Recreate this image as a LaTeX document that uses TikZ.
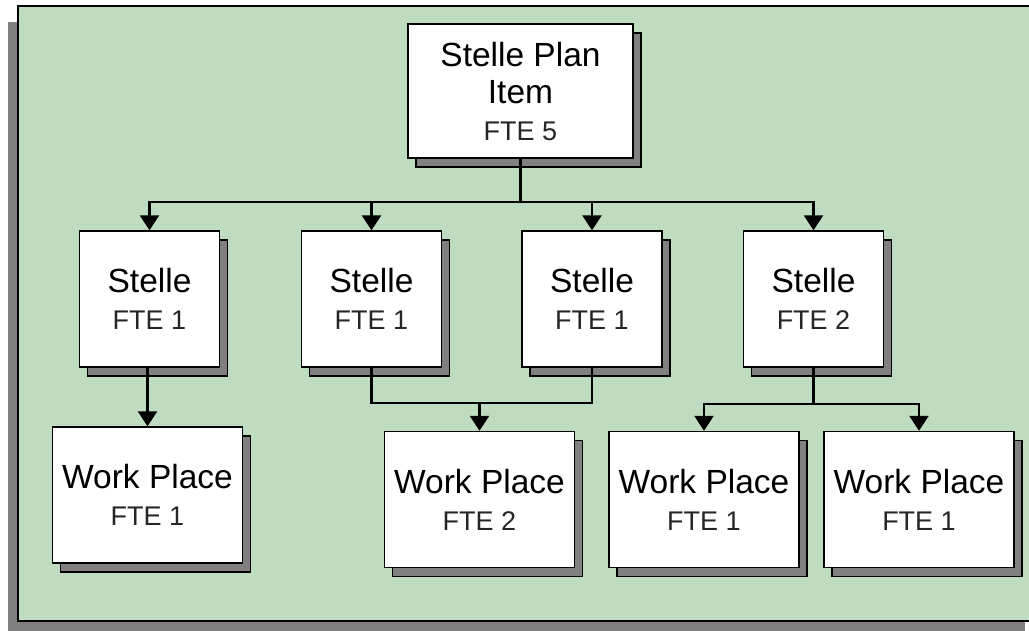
\documentclass[tikz,border=0pt]{standalone}
\usepackage{fontspec}
\setmainfont{Liberation Sans}
\usetikzlibrary{arrows.meta,shadows}
\definecolor{panelgreen}{RGB}{192,220,192}
\definecolor{shadowgray}{RGB}{128,128,128}
\newcommand{\ftefont}{\fontsize{27}{36}\selectfont\color{black!85}}

\begin{document}
\begin{tikzpicture}[x=1pt,y=-1pt,
  card/.style={draw=black,line width=1.4pt,fill=white,align=center,inner sep=0pt,
    font=\fontsize{33.5}{37}\selectfont,
    copy shadow={shadow xshift=8pt,shadow yshift=-9pt,fill=shadowgray,draw=black,line width=1.4pt}},
  stellebox/.style={card,minimum width=140pt,minimum height=136pt},
  placebox/.style={card,minimum width=190pt,minimum height=136pt},
  link/.style={line width=2.6pt,black},
  arr/.style={link,-{Triangle[width=19pt,length=15pt]}},
]
\useasboundingbox (0,0) rectangle (1029,630);

% panel with its offset shadow
\begin{scope}
  \clip (0,0) rectangle (1029,630);
  \fill[shadowgray] (8,22) rectangle (1025,650);
  \filldraw[fill=panelgreen,draw=black,line width=1.4pt] (18,6) rectangle (1050,621);
\end{scope}

% boxes
\node[card,minimum width=225pt,minimum height=134pt] (top) at (520.5,91)
  {Stelle Plan\\Item\\{\ftefont FTE 5}};

\node[stellebox] (s1) at (149.5,299) {Stelle\\{\ftefont FTE 1}};
\node[stellebox] (s2) at (371.5,299) {Stelle\\{\ftefont FTE 1}};
\node[stellebox] (s3) at (592,299)   {Stelle\\{\ftefont FTE 1}};
\node[stellebox] (s4) at (813.5,299) {Stelle\\{\ftefont FTE 2}};

\node[placebox] (wp1) at (147.5,495)  {Work Place\\{\ftefont FTE 1}};
\node[placebox] (wp2) at (479.5,499.5){Work Place\\{\ftefont FTE 2}};
\node[placebox] (wp3) at (704,499.5)  {Work Place\\{\ftefont FTE 1}};
\node[placebox] (wp4) at (919,499.5)  {Work Place\\{\ftefont FTE 1}};

% bus levels
\coordinate (busA) at (0,202);
\coordinate (busB) at (0,403);
\coordinate (busC) at (0,404);

% plan item to each Stelle
\foreach \n in {s1,s2,s3,s4}
  \draw[arr] (top.south) -- (top.south |- busA) -| (\n.north);

% Stelle to work places
\draw[arr] (wp1.north |- s1.south) -- (wp1.north);
\draw[link] (s2.south) |- (s3.south |- busB) -- (s3.south);
\draw[arr] (wp2.north |- busB) -- (wp2.north);
\draw[arr] (s4.south) |- (wp3.north |- busC) -- (wp3.north);
\draw[arr] (s4.south) |- (wp4.north |- busC) -- (wp4.north);
\end{tikzpicture}
\end{document}
